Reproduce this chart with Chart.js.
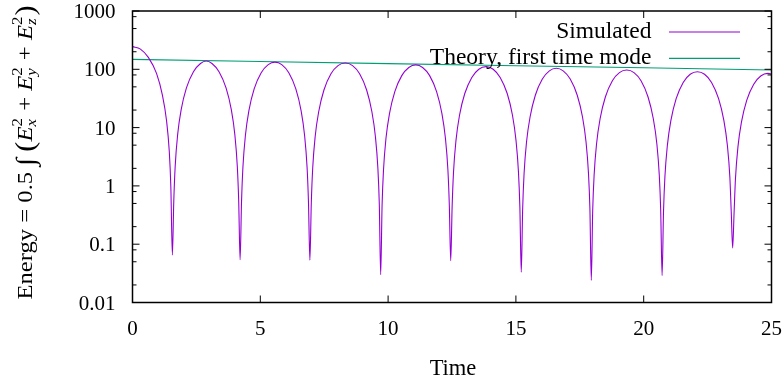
<!DOCTYPE html>
<html>
<head>
<meta charset="utf-8">
<script src="https://cdn.jsdelivr.net/npm/chart.js@4.4.0/dist/chart.umd.min.js"></script>
<style>
  html, body { margin: 0; padding: 0; background: #fff; }
</style>
</head>
<body>
<canvas id="energyChart" width="783" height="383"></canvas>
<script>
// Energy vs time, simulated field energy and first time mode theory

// Simulated energy, read off the plot lobe by lobe
const simTime = [
  0, 0.31, 0.62, 0.94, 1.17, 1.33, 1.44, 1.50, 1.56,
  1.615, 1.67, 1.766, 1.904, 2.11, 2.385, 2.66, 2.885, 3.11, 3.385, 3.66, 3.866, 4.004, 4.10, 4.155, 4.21,
  4.265, 4.32, 4.416, 4.554, 4.76, 5.035, 5.31, 5.575, 5.84, 6.115, 6.39, 6.596, 6.734, 6.83, 6.885, 6.94,
  6.995, 7.05, 7.146, 7.284, 7.49, 7.765, 8.04, 8.325, 8.61, 8.885, 9.16, 9.366, 9.504, 9.60, 9.655, 9.71,
  9.765, 9.82, 9.916, 10.054, 10.26, 10.535, 10.81, 11.08, 11.35, 11.625, 11.90, 12.106, 12.244, 12.34, 12.395, 12.45,
  12.505, 12.56, 12.656, 12.794, 13.0, 13.275, 13.55, 13.83, 14.11, 14.385, 14.66, 14.866, 15.004, 15.10, 15.155, 15.21,
  15.265, 15.32, 15.416, 15.554, 15.76, 16.035, 16.31, 16.58, 16.85, 17.125, 17.40, 17.606, 17.744, 17.84, 17.895, 17.95,
  18.005, 18.06, 18.156, 18.294, 18.5, 18.775, 19.05, 19.335, 19.62, 19.895, 20.17, 20.376, 20.514, 20.61, 20.665, 20.72,
  20.775, 20.83, 20.926, 21.064, 21.27, 21.545, 21.82, 22.1, 22.38, 22.655, 22.93, 23.136, 23.274, 23.37, 23.425, 23.48,
  23.535, 23.59, 23.686, 23.824, 24.03, 24.305, 24.58, 24.86, 25.0
];
const simEnergy = [
  245, 222, 160, 85, 36, 13.4, 3.85, 0.97, 0.065,
  0.548, 2.18, 7.58, 20.3, 48.0, 91.0, 125.7, 139, 125.7, 91.0, 48.0, 20.3, 7.58, 2.18, 0.548, 0.054,
  0.524, 2.09, 7.25, 19.5, 46.0, 87.0, 120.3, 133, 120.3, 87.0, 46.0, 19.5, 7.25, 2.09, 0.524, 0.053,
  0.504, 2.01, 6.98, 18.7, 44.2, 83.8, 115.8, 128, 115.8, 83.8, 44.2, 18.7, 6.98, 2.01, 0.504, 0.030,
  0.469, 1.87, 6.49, 17.4, 41.1, 77.9, 107.6, 119, 107.6, 77.9, 41.1, 17.4, 6.49, 1.87, 0.469, 0.052,
  0.437, 1.74, 6.05, 16.3, 38.4, 72.6, 100.4, 111, 100.4, 72.6, 38.4, 16.3, 6.05, 1.74, 0.437, 0.033,
  0.410, 1.63, 5.67, 15.2, 35.9, 68.1, 94.1, 104, 94.1, 68.1, 35.9, 15.2, 5.67, 1.63, 0.410, 0.024,
  0.382, 1.52, 5.29, 14.2, 33.5, 63.5, 87.7, 97, 87.7, 63.5, 33.5, 14.2, 5.29, 1.52, 0.382, 0.029,
  0.359, 1.43, 4.96, 13.3, 31.4, 59.6, 82.3, 91, 82.3, 59.6, 31.4, 13.3, 4.96, 1.43, 0.359, 0.086,
  0.335, 1.33, 4.63, 12.4, 29.4, 55.6, 76.9, 85, 82.9
];

// Theory, first time mode (straight on the log axis)
const theoryTime = [0, 5, 10, 15, 20, 25];
const theoryEnergy = [148, 136, 125, 115, 106, 97];

// Axis ticks
const xTickValues = [0, 5, 10, 15, 20, 25];
const xTickLabels = ['0', '5', '10', '15', '20', '25'];
const yTickValues = [0.01, 0.1, 1, 10, 100, 1000];
const yTickLabels = ['0.01', '0.1', '1', '10', '100', '1000'];
const yMinorSteps = [2, 5, 8];

const seriesLabels = ['Simulated', 'Theory, first time mode'];
const seriesColors = ['#9400d3', '#009e73'];

const serif = '"Liberation Serif", "DejaVu Serif", serif';

// y axis title, drawn piece by piece so the scripts can be stacked
const yTitleParts = [
  { t: 'Energy = 0.5 ' },
  { t: '\u222B', size: 26, it: true },
  { t: ' ' },
  { t: '(', size: 27 },
  { t: 'E', it: true }, { sup: '2', sub: 'x' },
  { t: ' + ' },
  { t: 'E', it: true }, { sup: '2', sub: 'y' },
  { t: ' + ' },
  { t: 'E', it: true }, { sup: '2', sub: 'z' },
  { t: ')', size: 27 }
];

function fontStr(it, size) {
  return (it ? 'italic ' : '') + size + 'px ' + serif;
}

function drawYTitle(ctx, baseX, centerY, span) {
  let total = 0;
  const items = yTitleParts.map(p => {
    let w;
    if (p.sup) {
      ctx.font = fontStr(false, 15);
      const a = ctx.measureText(p.sup).width;
      ctx.font = fontStr(true, 15);
      const b = ctx.measureText(p.sub).width;
      w = Math.max(a, b) + 1;
    } else {
      ctx.font = fontStr(p.it, p.size || 22);
      w = ctx.measureText(p.t).width;
    }
    total += w;
    return Object.assign({ w }, p);
  });

  ctx.save();
  ctx.translate(baseX, centerY);
  ctx.rotate(-Math.PI / 2);
  ctx.scale(span / total, 1);
  ctx.fillStyle = '#000';
  ctx.textBaseline = 'alphabetic';
  ctx.textAlign = 'left';
  let x = -total / 2;
  items.forEach(p => {
    if (p.sup) {
      ctx.font = fontStr(false, 15);
      ctx.fillText(p.sup, x, -10);
      ctx.font = fontStr(true, 15);
      ctx.fillText(p.sub, x, 4);
    } else {
      ctx.font = fontStr(p.it, p.size || 22);
      ctx.fillText(p.t, x, p.size ? 2 : 0);
    }
    x += p.w;
  });
  ctx.restore();
}

// gnuplot style box, inward ticks, tick labels, legend and titles
const gnuplotFrame = {
  id: 'gnuplotFrame',
  afterDatasetsDraw(chart) {
    const { ctx, chartArea, scales } = chart;
    const { left, right, top, bottom } = chartArea;
    const x = scales.x;
    const y = scales.y;

    ctx.save();
    ctx.strokeStyle = '#000';
    ctx.lineWidth = 1;
    ctx.beginPath();
    xTickValues.forEach(v => {
      const px = x.getPixelForValue(v);
      ctx.moveTo(px, bottom); ctx.lineTo(px, bottom - 7);
      ctx.moveTo(px, top); ctx.lineTo(px, top + 7);
    });
    yTickValues.forEach((v, i) => {
      const py = y.getPixelForValue(v);
      ctx.moveTo(left, py); ctx.lineTo(left + 7, py);
      ctx.moveTo(right, py); ctx.lineTo(right - 7, py);
      if (i < yTickValues.length - 1) {
        yMinorSteps.forEach(m => {
          const pm = y.getPixelForValue(v * m);
          ctx.moveTo(left, pm); ctx.lineTo(left + 4, pm);
          ctx.moveTo(right, pm); ctx.lineTo(right - 4, pm);
        });
      }
    });
    ctx.stroke();

    ctx.lineWidth = 1.5;
    ctx.strokeRect(left, top, right - left, bottom - top);

    // tick labels
    ctx.fillStyle = '#000';
    ctx.font = fontStr(false, 21);
    ctx.textBaseline = 'alphabetic';
    ctx.textAlign = 'center';
    xTickValues.forEach((v, i) => {
      ctx.fillText(xTickLabels[i], x.getPixelForValue(v), 334.5);
    });
    ctx.textAlign = 'right';
    yTickValues.forEach((v, i) => {
      ctx.fillText(yTickLabels[i], 115.5, y.getPixelForValue(v) + 7);
    });

    // legend: text right aligned, sample line to its right
    ctx.font = fontStr(false, 23.5);
    const rows = [{ base: 37.5, line: 32 }, { base: 63.5, line: 58.3 }];
    chart.data.datasets.forEach((ds, i) => {
      ctx.fillText(ds.label, 651.5, rows[i].base);
      ctx.strokeStyle = ds.borderColor;
      ctx.lineWidth = 1.2;
      ctx.beginPath();
      ctx.moveTo(669, rows[i].line);
      ctx.lineTo(740, rows[i].line);
      ctx.stroke();
    });

    // x axis title
    ctx.font = fontStr(false, 22.5);
    ctx.textAlign = 'center';
    ctx.fillText('Time', (left + right) / 2 + 1, 374.5);
    ctx.restore();

    drawYTitle(ctx, 32, 152.5, 294);
  }
};

new Chart(document.getElementById('energyChart'), {
  type: 'line',
  data: {
    datasets: [
      {
        label: seriesLabels[0],
        data: simTime.map((t, i) => ({ x: t, y: simEnergy[i] })),
        borderColor: seriesColors[0],
        borderWidth: 1.1,
        pointRadius: 0,
        cubicInterpolationMode: 'monotone',
        fill: false
      },
      {
        label: seriesLabels[1],
        data: theoryTime.map((t, i) => ({ x: t, y: theoryEnergy[i] })),
        borderColor: seriesColors[1],
        borderWidth: 1.1,
        pointRadius: 0,
        tension: 0,
        fill: false
      }
    ]
  },
  options: {
    responsive: false,
    animation: false,
    layout: { padding: { top: 11, right: 11.5, left: 0, bottom: 0 } },
    plugins: {
      legend: { display: false },
      tooltip: { enabled: false }
    },
    scales: {
      x: {
        type: 'linear',
        min: 0,
        max: 25,
        ticks: { display: false },
        grid: { display: false, drawTicks: false },
        border: { display: false },
        afterFit: (s) => { s.height = 80.5; }
      },
      y: {
        type: 'logarithmic',
        min: 0.01,
        max: 1000,
        ticks: { display: false },
        grid: { display: false, drawTicks: false },
        border: { display: false },
        afterFit: (s) => { s.width = 132.5; }
      }
    }
  },
  plugins: [gnuplotFrame]
});
</script>
</body>
</html>
